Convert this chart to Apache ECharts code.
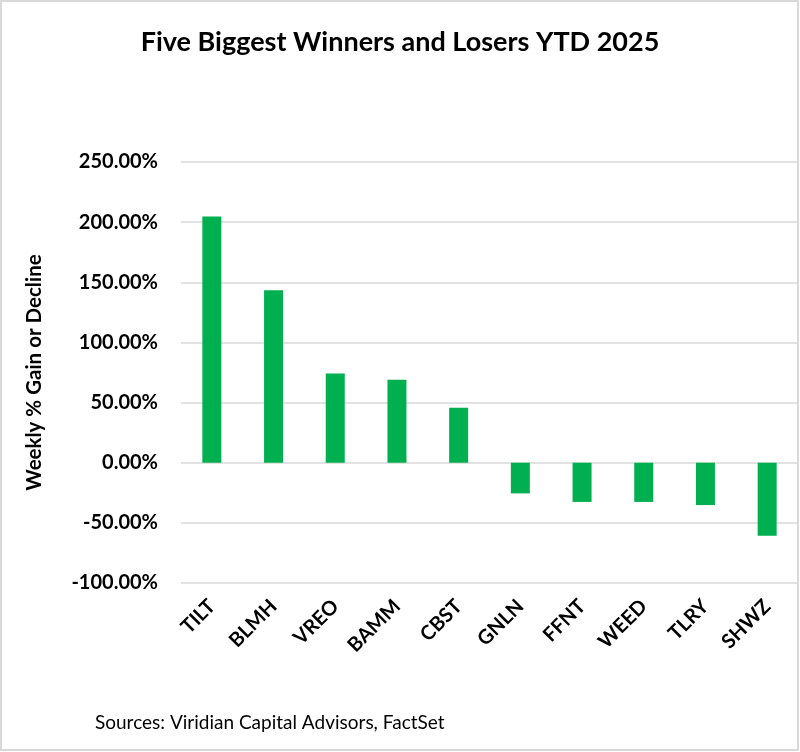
<!DOCTYPE html>
<html>
<head>
<meta charset="utf-8">
<script src="https://cdn.jsdelivr.net/npm/echarts@6/dist/echarts.min.js"></script>
<style>
html,body{margin:0;padding:0;background:#fff;}
#chart{width:800px;height:752px;}
</style>
</head>
<body>
<div id="chart"></div>
<script>
const categories = ['TILT','BLMH','VREO','BAMM','CBST','GNLN','FFNT','WEED','TLRY','SHWZ'];
const values = [204.6, 143.4, 74.2, 68.9, 45.7, -25.5, -32.6, -32.6, -35.2, -60.7];
const yTicks = {min: -100, max: 250, interval: 50};
const titleText = 'Five Biggest Winners and Losers YTD 2025';
const yAxisTitle = 'Weekly % Gain or Decline';
const sourceText = 'Sources: Viridian Capital Advisors, FactSet';

const FONT = 'Lato, "Open Sans", sans-serif';
const chart = echarts.init(document.getElementById('chart'));
chart.setOption({
  animation: false,
  backgroundColor: '#fff',
  title: {
    text: titleText,
    left: 'center',
    top: 24,
    textStyle: {fontFamily: FONT, fontWeight: 'bold', fontSize: 27, color: '#000'}
  },
  grid: {left: 181, right: 2, top: 162, bottom: 169, containLabel: false},
  xAxis: {
    type: 'category',
    data: categories,
    axisLine: {show: false},
    axisTick: {show: false},
    axisLabel: {
      rotate: 45,
      interval: 0,
      margin: 20,
      fontFamily: FONT, fontWeight: 'bold', fontSize: 20, color: '#000'
    }
  },
  yAxis: {
    type: 'value',
    min: yTicks.min, max: yTicks.max, interval: yTicks.interval,
    name: yAxisTitle,
    nameLocation: 'middle',
    nameGap: 136,
    nameRotate: 90,
    nameTextStyle: {fontFamily: FONT, fontWeight: 'bold', fontSize: 20.5, color: '#000'},
    axisLine: {show: false},
    axisTick: {show: false},
    splitLine: {lineStyle: {color: '#d9d9d9', width: 1.5}},
    axisLabel: {
      margin: 23,
      formatter: v => v.toFixed(2) + '%',
      fontFamily: FONT, fontWeight: 'bold', fontSize: 20, color: '#000'
    }
  },
  series: [{
    type: 'bar',
    data: values,
    barWidth: 19,
    itemStyle: {color: '#00B050'}
  }],
  graphic: [
    {
      type: 'text',
      left: 95,
      top: 713,
      style: {text: sourceText, fontFamily: FONT, fontSize: 19, fill: '#000'}
    },
    {
      type: 'rect',
      silent: true,
      shape: {x: 1, y: 1, width: 797, height: 749},
      style: {fill: 'none', stroke: '#d9d9d9', lineWidth: 2}
    }
  ]
});
</script>
</body>
</html>
